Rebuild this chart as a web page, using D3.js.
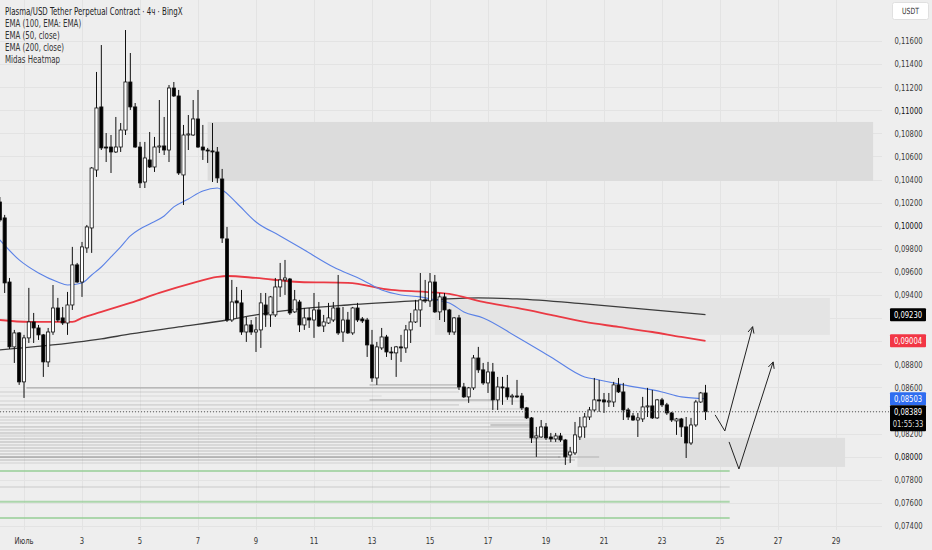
<!DOCTYPE html>
<html><head><meta charset="utf-8">
<script src="https://cdn.jsdelivr.net/npm/d3@7"></script>
<style>
body{margin:0;background:#eeeeee;}
svg{display:block}
</style>
</head><body>
<svg id="c" width="932" height="550"></svg>
<script>
// ---------------- DATA ----------------
const title = "Plasma/USD Tether Perpetual Contract · 4ч · BingX";
const legendItems = ["EMA (100, EMA: EMA)", "EMA (50, close)", "EMA (200, close)", "Midas Heatmap"];
const firstCandle = "2025-06-30T04:00"; // 4h candles
// [open, high, low, close]
const candles = [
[0.10206,0.10249,0.10033,0.10050],[0.10068,0.10094,0.09418,0.09505],[0.09513,0.09548,0.08933,0.08951],
[0.08951,0.09098,0.08812,0.09072],[0.09072,0.09080,0.08622,0.08648],[0.08648,0.09055,0.08509,0.09029],
[0.09029,0.09462,0.08985,0.09167],[0.09167,0.09245,0.08985,0.09115],[0.09115,0.09141,0.09011,0.09055],
[0.09055,0.09063,0.08691,0.08821],[0.08821,0.09115,0.08777,0.09080],[0.09080,0.09487,0.09055,0.09288],
[0.09288,0.09375,0.09167,0.09184],[0.09202,0.09297,0.09141,0.09158],[0.09158,0.09427,0.09055,0.09314],
[0.09314,0.09817,0.09271,0.09661],[0.09661,0.09678,0.09505,0.09513],[0.09513,0.09860,0.09384,0.09817],
[0.09808,0.10007,0.09765,0.09990],[0.09981,0.10509,0.09765,0.10500],[0.10483,0.11332,0.10423,0.11020],
[0.11029,0.11565,0.10656,0.10674],[0.10682,0.10803,0.10552,0.10674],[0.10682,0.10786,0.10457,0.10639],
[0.10639,0.10942,0.10630,0.10682],[0.10682,0.10890,0.10639,0.10829],[0.10829,0.11695,0.10786,0.11245],
[0.11245,0.11496,0.11003,0.11029],[0.11029,0.11063,0.10674,0.10682],[0.10682,0.10726,0.10327,0.10371],
[0.10379,0.10726,0.10327,0.10587],[0.10570,0.10812,0.10500,0.10509],[0.10509,0.10769,0.10466,0.10682],
[0.10682,0.11089,0.10630,0.10691],[0.10691,0.10942,0.10613,0.10656],[0.10656,0.11219,0.10552,0.11193],
[0.11193,0.11245,0.11115,0.11124],[0.11124,0.11176,0.10440,0.10457],[0.10440,0.10873,0.10180,0.10786],
[0.10786,0.10959,0.10656,0.10795],[0.10786,0.11089,0.10778,0.10925],[0.10925,0.11176,0.10674,0.10682],
[0.10682,0.10873,0.10570,0.10656],[0.10656,0.10674,0.10544,0.10648],[0.10648,0.10890,0.10379,0.10639],
[0.10639,0.10682,0.10371,0.10414],[0.10405,0.10492,0.09851,0.09894],[0.09886,0.09990,0.09167,0.09184],
[0.09184,0.09531,0.09167,0.09340],[0.09349,0.09470,0.09202,0.09332],[0.09332,0.09444,0.09055,0.09080],
[0.09080,0.09210,0.08994,0.09141],[0.09141,0.09184,0.09055,0.09080],[0.09080,0.09210,0.08907,0.09098],
[0.09098,0.09418,0.08942,0.09332],[0.09314,0.09418,0.09124,0.09228],[0.09228,0.09392,0.09124,0.09384],
[0.09228,0.09548,0.09210,0.09470],[0.09470,0.09678,0.09384,0.09531],[0.09531,0.09704,0.09401,0.09548],
[0.09539,0.09548,0.09228,0.09245],[0.09254,0.09444,0.09245,0.09358],[0.09340,0.09358,0.09080,0.09141],
[0.09141,0.09288,0.09098,0.09202],[0.09202,0.09288,0.09115,0.09184],[0.09184,0.09418,0.09029,0.09271],
[0.09271,0.09340,0.09124,0.09132],[0.09132,0.09228,0.09080,0.09167],[0.09158,0.09332,0.09150,0.09202],
[0.09184,0.09340,0.09167,0.09288],[0.09288,0.09574,0.09055,0.09072],[0.09080,0.09297,0.08994,0.09184],
[0.09184,0.09254,0.09063,0.09072],[0.09072,0.09297,0.09055,0.09288],[0.09288,0.09332,0.09167,0.09184],
[0.09193,0.09210,0.09158,0.09176],[0.09184,0.09202,0.08864,0.08968],[0.08968,0.09098,0.08648,0.08682],
[0.08682,0.08994,0.08622,0.08951],[0.08942,0.09115,0.08925,0.09037],[0.09037,0.09055,0.08864,0.08907],
[0.08907,0.08951,0.08838,0.08899],[0.08899,0.08959,0.08691,0.08951],[0.08951,0.09055,0.08821,0.08942],
[0.08942,0.09141,0.08899,0.09098],[0.09098,0.09245,0.08985,0.09167],[0.09167,0.09358,0.09158,0.09271],
[0.09271,0.09591,0.09124,0.09358],[0.09358,0.09531,0.09332,0.09349],[0.09349,0.09591,0.09297,0.09513],
[0.09513,0.09574,0.09245,0.09254],[0.09254,0.09418,0.09184,0.09384],[0.09384,0.09418,0.09167,0.09271],
[0.09271,0.09280,0.09055,0.09080],[0.09080,0.09210,0.09055,0.09202],[0.09202,0.09228,0.08578,0.08604],
[0.08604,0.08639,0.08509,0.08518],[0.08518,0.08604,0.08466,0.08596],[0.08596,0.08881,0.08578,0.08855],
[0.08855,0.08951,0.08726,0.08752],[0.08752,0.08812,0.08622,0.08639],[0.08639,0.08821,0.08552,0.08734],
[0.08734,0.08812,0.08405,0.08492],[0.08492,0.08691,0.08405,0.08604],[0.08604,0.08691,0.08449,0.08596],
[0.08596,0.08708,0.08492,0.08518],[0.08518,0.08544,0.08449,0.08526],[0.08526,0.08665,0.08509,0.08518],
[0.08526,0.08552,0.08405,0.08423],[0.08423,0.08431,0.08327,0.08336],[0.08336,0.08344,0.08119,0.08163],
[0.08163,0.08258,0.07998,0.08180],[0.08171,0.08318,0.08163,0.08258],[0.08258,0.08292,0.08145,0.08163],
[0.08171,0.08206,0.08128,0.08154],[0.08154,0.08206,0.08128,0.08180],[0.08180,0.08206,0.08128,0.08145],
[0.08145,0.08154,0.07929,0.07998],[0.08015,0.08085,0.07946,0.08041],[0.08033,0.08301,0.08015,0.08189],
[0.08171,0.08344,0.08145,0.08258],[0.08258,0.08379,0.08163,0.08344],[0.08344,0.08431,0.08318,0.08405],
[0.08405,0.08682,0.08388,0.08492],[0.08492,0.08665,0.08388,0.08483],[0.08492,0.08552,0.08379,0.08474],
[0.08474,0.08552,0.08431,0.08483],[0.08474,0.08648,0.08431,0.08622],[0.08622,0.08682,0.08552,0.08561],
[0.08561,0.08639,0.08318,0.08405],[0.08405,0.08423,0.08318,0.08344],[0.08353,0.08379,0.08310,0.08318],
[0.08318,0.08379,0.08171,0.08336],[0.08327,0.08518,0.08301,0.08431],[0.08431,0.08596,0.08344,0.08440],
[0.08440,0.08578,0.08327,0.08336],[0.08336,0.08500,0.08327,0.08492],[0.08492,0.08509,0.08431,0.08449],
[0.08449,0.08466,0.08362,0.08379],[0.08379,0.08388,0.08301,0.08318],[0.08310,0.08336,0.08189,0.08327],
[0.08327,0.08336,0.08171,0.08258],[0.08258,0.08344,0.07989,0.08119],[0.08119,0.08336,0.08102,0.08275],
[0.08275,0.08492,0.08258,0.08474],[0.08474,0.08561,0.08466,0.08552],[0.08552,0.08622,0.08318,0.08389]
];
// EMA samples: [candle number (0 = first candle), value]
const ema50 = [[0,0.09877],[4,0.09704],[8,0.09591],[12,0.09513],[14,0.09487],[17,0.09505],[19,0.09574],
[21,0.09643],[23,0.09730],[25,0.09817],[27,0.09912],[29,0.09972],[31,0.10016],[34,0.10085],[36,0.10163],
[39,0.10232],[42,0.10301],[45,0.10327],[46,0.10310],[49,0.10197],[53,0.10033],[58,0.09912],[63,0.09790],
[69,0.09643],[75,0.09531],[79,0.09444],[83,0.09401],[87,0.09384],[90,0.09358],[93,0.09332],[96,0.09254],
[100,0.09202],[107,0.09037],[114,0.08864],[121,0.08691],[124,0.08665],[129,0.08622],[137,0.08561],
[141,0.08518],[146,0.08503]];
const ema100 = [[0,0.09184],[6,0.09167],[15,0.09167],[17,0.09202],[21,0.09254],[25,0.09306],[27,0.09332],
[33,0.09418],[40,0.09505],[45,0.09557],[47,0.09565],[53,0.09548],[62,0.09513],[72,0.09505],[81,0.09444],
[88,0.09427],[93,0.09410],[100,0.09340],[107,0.09288],[114,0.09228],[121,0.09167],[128,0.09124],
[135,0.09080],[141,0.09037],[146,0.09004]];
const ema200 = [[0,0.08925],[9,0.08959],[21,0.09020],[27,0.09063],[37,0.09124],[47,0.09184],[53,0.09228],
[62,0.09280],[72,0.09314],[86,0.09349],[99,0.09375],[107,0.09366],[121,0.09323],[135,0.09271],[146,0.09230]];
// Midas heatmap levels: [price, from candle, to candle, volume 0..1]
const heatLevels = [
[0.08622,77,95,0.35],[0.08596,6,95,0.4],[0.08561,0,95,0.18],[0.08526,0,79,0.12],[0.08492,77,102,0.35],
[0.08483,0,109,0.15],[0.08449,0,95,0.2],[0.08414,0,109,0.15],[0.08344,0,109,0.22],[0.08318,0,110,0.18],
[0.08292,0,110,0.2],[0.08275,102,110,0.45],[0.08258,0,110,0.25],[0.08232,0,110,0.2],[0.08206,0,111,0.3],
[0.08180,0,112,0.2],[0.08154,0,116,0.28],[0.08128,0,116,0.32],[0.08102,0,117,0.22],[0.08076,0,117,0.3],
[0.08050,0,118,0.25],[0.08024,0,118,0.3],[0.07998,0,116,0.6],[0.07998,116,124,0.3],[0.07972,0,119,0.3],
[0.07946,0,118,0.15],[0.07738,0,151,0.2]
];
const supportLevels = [[0.07877,0,151],[0.07609,0,151],[0.07470,0,151]];
// zones: [from, to, low, high]
const zones = [
["2025-07-07T08:00","2025-07-30T06:40",0.10388,0.10899],
["2025-07-15T04:00","2025-07-28T19:00",0.09055,0.09375],
["2025-07-20T02:00","2025-07-29T07:30",0.07912,0.08163]
];
const arrowPaths = [
[["2025-07-24T20:00",0.08362],["2025-07-25T04:00",0.08223],["2025-07-26T03:00",0.09126]],
[["2025-07-25T07:30",0.08128],["2025-07-25T15:40",0.07894],["2025-07-26T20:00",0.08821]]
];
const priceTicks = [0.116,0.114,0.112,0.110,0.108,0.106,0.104,0.102,0.100,0.098,0.096,0.094,0.088,0.086,0.082,0.080,0.078,0.076,0.074];
const gridPrices = [0.116,0.114,0.112,0.110,0.108,0.106,0.104,0.102,0.100,0.098,0.096,0.094,0.092,0.090,0.088,0.086,0.084,0.082,0.080,0.078,0.076,0.074];
const dateTicks = ["2025-07-01","2025-07-03","2025-07-05","2025-07-07","2025-07-09","2025-07-11","2025-07-13","2025-07-15","2025-07-17","2025-07-19","2025-07-21","2025-07-23","2025-07-25","2025-07-27","2025-07-29"];
const dateLabels = ["Июль","3","5","7","9","11","13","15","17","19","21","23","25","27","29"];
const lastPrice = 0.08389, countdown = "01:55:33";
const emaLast = {ema200:0.09230, ema100:0.09004, ema50:0.08503};
const unit = "USDT";

// ---------------- DRAW ----------------
const svg = d3.select("#c");
const W = 932, H = 550, plotR = 882;
const parse = s => new Date(s);
const t0 = parse(firstCandle);
const candleTime = k => new Date(t0.getTime() + k*4*3600*1000);
const x = d3.scaleTime().domain([parse("2025-07-01T00:00"), parse("2025-07-29T00:00")]).range([24, 836]);
const y = d3.scaleLinear().domain([0.074, 0.116]).range([526, 41]);
const step = x(candleTime(1)) - x(candleTime(0));
const bw = step*0.66;
const fmt = v => d3.format(".5f")(v).replace(".", ",");
const FONT = "'DejaVu Sans Condensed','DejaVu Sans',sans-serif";
const SX = 0.8; // horizontal squeeze to mimic the narrow UI font

// text helper with horizontal squeeze
function stext(g, tx, ty, str, size, fill, anchor){
  return g.append("text")
    .attr("transform", `translate(${tx},${ty}) scale(${SX},1)`)
    .attr("x",0).attr("y",0).attr("dy","0.35em")
    .attr("text-anchor", anchor||"start")
    .attr("font-family",FONT).attr("font-size",size).attr("fill",fill).text(str);
}

svg.append("rect").attr("width",W).attr("height",H).attr("fill","#eeeeee");
svg.append("defs").append("clipPath").attr("id","pc").append("rect").attr("x",0).attr("y",0).attr("width",plotR).attr("height",530);
const plot = svg.append("g").attr("clip-path","url(#pc)");

// grid
plot.selectAll(".hg").data(gridPrices).enter().append("line")
  .attr("x1",0).attr("x2",plotR).attr("y1",d=>Math.round(y(d))+0.5).attr("y2",d=>Math.round(y(d))+0.5)
  .attr("stroke","#e3e3e3").attr("stroke-width",1);
plot.selectAll(".vg").data(dateTicks).enter().append("line")
  .attr("y1",0).attr("y2",530).attr("x1",d=>Math.round(x(parse(d+"T00:00")))+0.5).attr("x2",d=>Math.round(x(parse(d+"T00:00")))+0.5)
  .attr("stroke","#e3e3e3").attr("stroke-width",1);

// zones
const zoneFill = ["#dcdcdc","#e4e4e4","#dfdfdf"];
plot.selectAll(".zone").data(zones).enter().append("rect")
  .attr("x",d=>x(parse(d[0]))).attr("width",d=>x(parse(d[1]))-x(parse(d[0])))
  .attr("y",d=>y(d[3])).attr("height",d=>y(d[2])-y(d[3]))
  .attr("fill",(d,i)=>zoneFill[i]);

// heatmap
plot.selectAll(".heat").data(heatLevels).enter().append("line")
  .attr("x1",d=>x(candleTime(d[1]))-step/2).attr("x2",d=>x(candleTime(d[2])))
  .attr("y1",d=>y(d[0])).attr("y2",d=>y(d[0]))
  .attr("stroke",d=>`rgba(120,120,120,${d[3]})`).attr("stroke-width",1.6);
plot.selectAll(".sup").data(supportLevels).enter().append("line")
  .attr("x1",d=>x(candleTime(d[1]))-step/2).attr("x2",d=>x(candleTime(d[2])))
  .attr("y1",d=>y(d[0])).attr("y2",d=>y(d[0]))
  .attr("stroke","rgba(150,205,150,0.75)").attr("stroke-width",2);

// EMA lines
const line = d3.line().x(d=>x(candleTime(d[0]))).y(d=>y(d[1])).curve(d3.curveMonotoneX);
plot.append("path").attr("d",line(ema200)).attr("fill","none").attr("stroke","#3c3c3c").attr("stroke-width",1.3);
plot.append("path").attr("d",line(ema100)).attr("fill","none").attr("stroke","#ea3a44").attr("stroke-width",1.8);
plot.append("path").attr("d",line(ema50)).attr("fill","none").attr("stroke","#5b82e6").attr("stroke-width",1.1);

// candles
const cg = plot.append("g");
candles.forEach((c,k)=>{
  const cx = x(candleTime(k));
  const [o,h,l,cl] = c;
  const up = cl >= o;
  cg.append("line").attr("x1",cx).attr("x2",cx).attr("y1",y(h)).attr("y2",y(l)).attr("stroke","#111").attr("stroke-width",1);
  const top = y(Math.max(o,cl)), bot = y(Math.min(o,cl));
  cg.append("rect").attr("x",cx-bw/2).attr("width",bw).attr("y",top).attr("height",Math.max(1,bot-top))
    .attr("fill",up?"#ffffff":"#000000").attr("stroke","#111").attr("stroke-width",0.8);
});

// current price dotted line
svg.append("line").attr("x1",0).attr("x2",890).attr("y1",y(lastPrice)).attr("y2",y(lastPrice))
  .attr("stroke","#555").attr("stroke-width",1).attr("stroke-dasharray","1,2");

// arrows
const aline = d3.line().x(d=>x(parse(d[0]))).y(d=>y(d[1]));
arrowPaths.forEach(p=>{
  plot.append("path").attr("d",aline(p)).attr("fill","none").attr("stroke","#222").attr("stroke-width",1);
  const a = p[p.length-2], b = p[p.length-1];
  const x1=x(parse(a[0])), y1=y(a[1]), x2=x(parse(b[0])), y2=y(b[1]);
  const ang = Math.atan2(y2-y1, x2-x1);
  [0.45,-0.45].forEach(da=>{
    plot.append("line").attr("x1",x2).attr("y1",y2)
      .attr("x2",x2-7*Math.cos(ang+da)).attr("y2",y2-7*Math.sin(ang+da))
      .attr("stroke","#222").attr("stroke-width",1);
  });
});

// right axis ticks
const ax = svg.append("g");
priceTicks.forEach(v=>{
  const strong = Math.abs(v*100 - Math.round(v*100)) < 1e-9;
  stext(ax, 908.5, y(v), fmt(v), 9.5, strong?"#111":"#3a3a3a", "middle");
});

// label boxes
function tag(v, fill, txtColor){
  const yy = y(v);
  svg.append("rect").attr("x",890).attr("y",yy-6.5).attr("width",36).attr("height",13).attr("rx",1).attr("fill",fill);
  stext(svg, 908, yy, fmt(v), 9.5, txtColor, "middle");
}
tag(emaLast.ema200,"#000000","#ffffff");
tag(emaLast.ema100,"#f23645","#ffffff");
tag(emaLast.ema50,"#2f6df0","#ffffff");
{
  const yy = y(lastPrice);
  svg.append("rect").attr("x",890).attr("y",yy-6.5).attr("width",36).attr("height",26).attr("rx",1).attr("fill","#000");
  stext(svg, 908, yy, fmt(lastPrice), 9.5, "#fff", "middle");
  stext(svg, 908, yy+12, countdown, 9.5, "#ddd", "middle");
}

// USDT box
svg.append("rect").attr("x",892.5).attr("y",2.5).attr("width",36).attr("height",17).attr("rx",2).attr("fill","#fff").attr("stroke","#e0e0e0");
stext(svg, 910.5, 11, unit, 8.5, "#333", "middle");

// bottom axis
dateTicks.forEach((d,i)=>{
  stext(svg, x(parse(d+"T00:00")), 541, dateLabels[i], 9.5, "#333", "middle");
});

// legend
stext(svg, 5, 12, title, 9.8, "#222");
legendItems.forEach((d,i)=> stext(svg, 5, 24+i*11.7, d, 9.8, "#333"));
</script>
</body></html>
